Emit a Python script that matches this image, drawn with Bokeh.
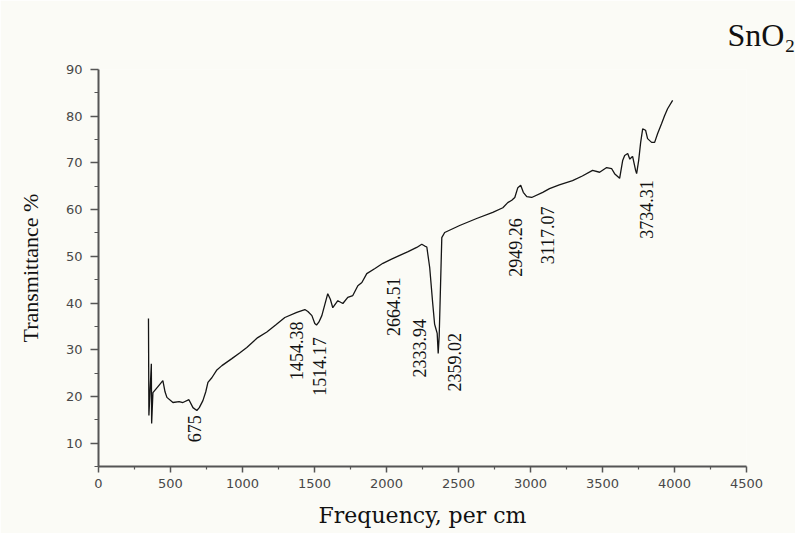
import math
from bokeh.plotting import figure
from bokeh.models import FixedTicker, ColumnDataSource, Range1d, Title
from bokeh.core.properties import value
from bokeh.embed import file_html
from bokeh.resources import INLINE

# ---- data ----
freq = [347, 350, 367, 369, 378, 410, 447, 462, 475, 517, 560, 586, 628, 656, 683,
        700, 725, 745, 760, 787, 820, 857, 926, 980, 1030, 1106, 1169, 1230, 1294,
        1377, 1433, 1454, 1482, 1502, 1514, 1530, 1551, 1592, 1610, 1627, 1662, 1697,
        1731, 1766, 1801, 1829, 1863, 1920, 1975, 2035, 2092, 2150, 2210, 2245, 2266,
        2280, 2300, 2321, 2334, 2342, 2352, 2359, 2366, 2372, 2384, 2404, 2508, 2626,
        2738, 2808, 2842, 2870, 2891, 2912, 2932, 2950, 2974, 3008, 3085, 3132, 3200,
        3292, 3360, 3431, 3480, 3529, 3563, 3584, 3619, 3640, 3654, 3675, 3690, 3702,
        3709, 3730, 3737, 3751, 3765, 3779, 3799, 3813, 3841, 3862, 3883, 3910, 3931,
        3952, 3987]
trans = [36.7, 15.9, 27.0, 14.2, 20.8, 22.0, 23.4, 21.0, 19.8, 18.7, 18.9, 18.7, 19.3,
         17.6, 17.0, 17.6, 19.1, 21.0, 23.0, 24.0, 25.6, 26.6, 28.1, 29.3, 30.5, 32.6,
         33.8, 35.3, 36.9, 38.0, 38.6, 38.2, 37.3, 35.6, 35.3, 35.9, 37.3, 42.0, 40.8,
         39.0, 40.5, 39.9, 41.2, 41.6, 43.7, 44.4, 46.3, 47.4, 48.5, 49.4, 50.2, 51.0,
         51.9, 52.6, 52.2, 52.0, 47.6, 39.9, 35.5, 34.6, 33.5, 29.2, 33.0, 40.0, 54.0,
         55.1, 56.6, 58.1, 59.4, 60.4, 61.5, 62.0, 62.6, 64.7, 65.2, 63.7, 62.8, 62.6,
         63.7, 64.5, 65.3, 66.2, 67.2, 68.4, 68.0, 69.0, 68.8, 67.7, 66.7, 70.5, 71.6,
         72.0, 70.8, 71.2, 71.4, 68.4, 67.7, 70.5, 74.4, 77.3, 77.0, 75.2, 74.4, 74.4,
         76.3, 78.4, 80.1, 81.6, 83.4]

peak_text = ["675", "1454.38", "1514.17", "2664.51", "2333.94", "2359.02",
             "2949.26", "3117.07", "3734.31"]
peak_label_x = [670, 1377, 1537, 2051, 2231, 2474, 2897, 3119, 3806]
peak_label_y = [13.1, 29.8, 26.4, 39.2, 30.3, 27.3, 51.9, 54.5, 60.0]

x_ticks = [0, 500, 1000, 1500, 2000, 2500, 3000, 3500, 4000, 4500]
x_minor = [250, 750, 1250, 1750, 2250, 2750, 3250, 3750, 4250]
y_ticks = [10, 20, 30, 40, 50, 60, 70, 80, 90]
y_minor = [5, 15, 25, 35, 45, 55, 65, 75, 85]

bg = "#fbfbf6"
axis_col = "#555555"

p = figure(width=795, height=533, x_range=Range1d(0, 4500), y_range=Range1d(5, 90),
           output_backend="svg", toolbar_location=None,
           min_border_left=98, min_border_right=49, min_border_top=69,
           min_border_bottom=67)
p.background_fill_color = bg
p.border_fill_color = bg
p.outline_line_color = None
p.grid.visible = False

p.line(freq, trans, line_color="#151515", line_width=1.3)

src = ColumnDataSource(dict(x=peak_label_x, y=peak_label_y, t=peak_text))
p.text(x="x", y="y", text="t", source=src, angle=math.pi / 2,
       text_align="center", text_baseline="middle",
       text_font=value("Liberation Serif"), text_font_size="18px",
       text_color="#111111")

p.xaxis.ticker = FixedTicker(ticks=x_ticks, minor_ticks=x_minor)
p.yaxis.ticker = FixedTicker(ticks=y_ticks, minor_ticks=y_minor)

for ax in (p.xaxis[0], p.yaxis[0]):
    ax.axis_line_color = axis_col
    ax.axis_line_width = 2
    ax.major_tick_line_color = axis_col
    ax.minor_tick_line_color = axis_col
    ax.major_tick_line_width = 1.5
    ax.minor_tick_line_width = 1.2
    ax.major_tick_in = 0
    ax.minor_tick_in = 0
    ax.major_label_text_font = "DejaVu Sans"
    ax.major_label_text_font_size = "13px"
    ax.major_label_text_color = "#484848"
    ax.axis_label_text_font_style = "normal"
    ax.axis_label_text_color = "#111111"

p.yaxis.major_tick_out = 8
p.yaxis.minor_tick_out = 4
p.yaxis.major_label_standoff = 8
p.xaxis.major_tick_out = 6
p.xaxis.minor_tick_out = 3
p.xaxis.major_label_standoff = 6

p.xaxis.axis_label = "Frequency, per cm"
p.xaxis.axis_label_text_font = "DejaVu Serif"
p.xaxis.axis_label_text_font_size = "22px"
p.xaxis.axis_label_standoff = 12

p.yaxis.axis_label = "Transmittance %"
p.yaxis.axis_label_text_font = "Liberation Serif"
p.yaxis.axis_label_text_font_size = "22px"
p.yaxis.axis_label_standoff = 20

p.add_layout(Title(text="SnO\u2082", align="right", offset=-49, standoff=30,
                   vertical_align="top",
                   text_font="Liberation Serif", text_font_size="32px",
                   text_font_style="normal", text_color="#111111"), "above")

open("out.html", "w").write(file_html(p, INLINE))
